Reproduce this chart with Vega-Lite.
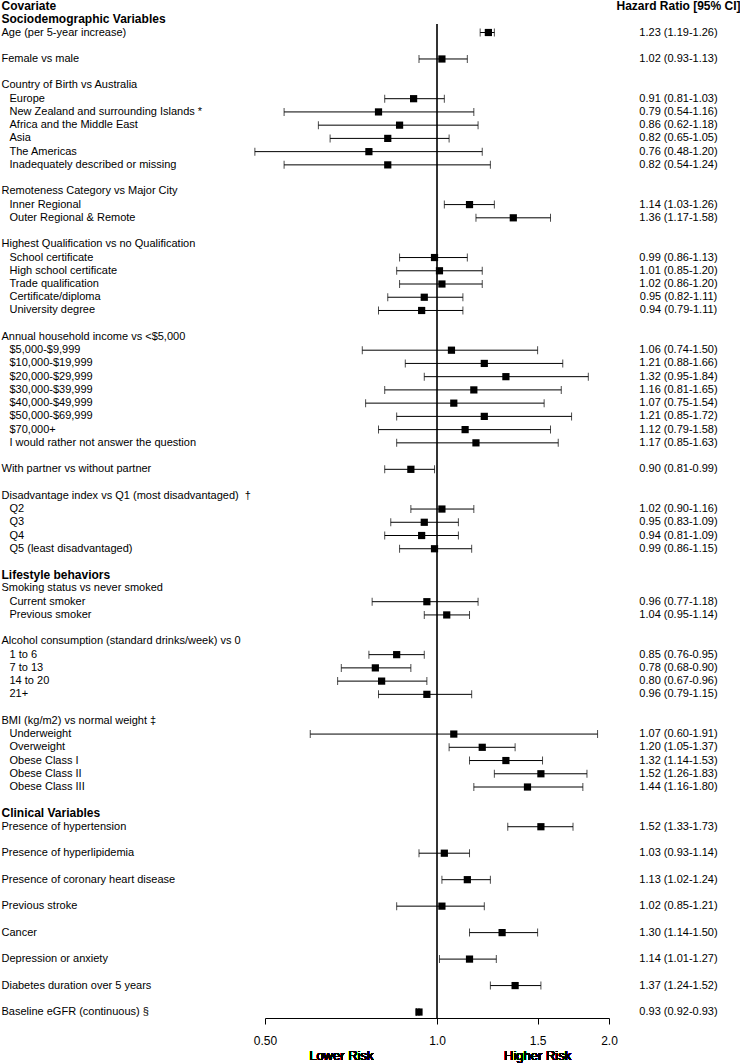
{
  "$schema": "https://vega.github.io/schema/vega-lite/v6.json",
  "padding": 0,
  "spacing": 0,
  "bounds": "flush",
  "config": {
    "view": {"stroke": null},
    "font": "Liberation Sans",
    "text": {"font": "Liberation Sans", "color": "black"}
  },
  "data": {
    "values": [
      {"row": 0, "label": "Covariate", "level": 0, "kind": "header", "ci": "Hazard Ratio [95% CI]"},
      {"row": 1, "label": "Sociodemographic Variables", "level": 0, "kind": "section"},
      {"row": 2, "label": "Age (per 5-year increase)", "level": 0, "kind": "item", "hr": 1.23, "lo": 1.19, "hi": 1.26, "ci": "1.23 (1.19-1.26)"},
      {"row": 4, "label": "Female vs male", "level": 0, "kind": "item", "hr": 1.02, "lo": 0.93, "hi": 1.13, "ci": "1.02 (0.93-1.13)"},
      {"row": 6, "label": "Country of Birth vs Australia", "level": 0, "kind": "group"},
      {"row": 7, "label": "Europe", "level": 1, "kind": "item", "hr": 0.91, "lo": 0.81, "hi": 1.03, "ci": "0.91 (0.81-1.03)"},
      {"row": 8, "label": "New Zealand and surrounding Islands *", "level": 1, "kind": "item", "hr": 0.79, "lo": 0.54, "hi": 1.16, "ci": "0.79 (0.54-1.16)"},
      {"row": 9, "label": "Africa and the Middle East", "level": 1, "kind": "item", "hr": 0.86, "lo": 0.62, "hi": 1.18, "ci": "0.86 (0.62-1.18)"},
      {"row": 10, "label": "Asia", "level": 1, "kind": "item", "hr": 0.82, "lo": 0.65, "hi": 1.05, "ci": "0.82 (0.65-1.05)"},
      {"row": 11, "label": "The Americas", "level": 1, "kind": "item", "hr": 0.76, "lo": 0.48, "hi": 1.20, "ci": "0.76 (0.48-1.20)"},
      {"row": 12, "label": "Inadequately described or missing", "level": 1, "kind": "item", "hr": 0.82, "lo": 0.54, "hi": 1.24, "ci": "0.82 (0.54-1.24)"},
      {"row": 14, "label": "Remoteness Category vs Major City", "level": 0, "kind": "group"},
      {"row": 15, "label": "Inner Regional", "level": 1, "kind": "item", "hr": 1.14, "lo": 1.03, "hi": 1.26, "ci": "1.14 (1.03-1.26)"},
      {"row": 16, "label": "Outer Regional & Remote", "level": 1, "kind": "item", "hr": 1.36, "lo": 1.17, "hi": 1.58, "ci": "1.36 (1.17-1.58)"},
      {"row": 18, "label": "Highest Qualification vs no Qualification", "level": 0, "kind": "group"},
      {"row": 19, "label": "School certificate", "level": 1, "kind": "item", "hr": 0.99, "lo": 0.86, "hi": 1.13, "ci": "0.99 (0.86-1.13)"},
      {"row": 20, "label": "High school certificate", "level": 1, "kind": "item", "hr": 1.01, "lo": 0.85, "hi": 1.20, "ci": "1.01 (0.85-1.20)"},
      {"row": 21, "label": "Trade qualification", "level": 1, "kind": "item", "hr": 1.02, "lo": 0.86, "hi": 1.20, "ci": "1.02 (0.86-1.20)"},
      {"row": 22, "label": "Certificate/diploma", "level": 1, "kind": "item", "hr": 0.95, "lo": 0.82, "hi": 1.11, "ci": "0.95 (0.82-1.11)"},
      {"row": 23, "label": "University degree", "level": 1, "kind": "item", "hr": 0.94, "lo": 0.79, "hi": 1.11, "ci": "0.94 (0.79-1.11)"},
      {"row": 25, "label": "Annual household income vs <$5,000", "level": 0, "kind": "group"},
      {"row": 26, "label": "$5,000-$9,999", "level": 1, "kind": "item", "hr": 1.06, "lo": 0.74, "hi": 1.50, "ci": "1.06 (0.74-1.50)"},
      {"row": 27, "label": "$10,000-$19,999", "level": 1, "kind": "item", "hr": 1.21, "lo": 0.88, "hi": 1.66, "ci": "1.21 (0.88-1.66)"},
      {"row": 28, "label": "$20,000-$29,999", "level": 1, "kind": "item", "hr": 1.32, "lo": 0.95, "hi": 1.84, "ci": "1.32 (0.95-1.84)"},
      {"row": 29, "label": "$30,000-$39,999", "level": 1, "kind": "item", "hr": 1.16, "lo": 0.81, "hi": 1.65, "ci": "1.16 (0.81-1.65)"},
      {"row": 30, "label": "$40,000-$49,999", "level": 1, "kind": "item", "hr": 1.07, "lo": 0.75, "hi": 1.54, "ci": "1.07 (0.75-1.54)"},
      {"row": 31, "label": "$50,000-$69,999", "level": 1, "kind": "item", "hr": 1.21, "lo": 0.85, "hi": 1.72, "ci": "1.21 (0.85-1.72)"},
      {"row": 32, "label": "$70,000+", "level": 1, "kind": "item", "hr": 1.12, "lo": 0.79, "hi": 1.58, "ci": "1.12 (0.79-1.58)"},
      {"row": 33, "label": "I would rather not answer the question", "level": 1, "kind": "item", "hr": 1.17, "lo": 0.85, "hi": 1.63, "ci": "1.17 (0.85-1.63)"},
      {"row": 35, "label": "With partner vs without partner", "level": 0, "kind": "item", "hr": 0.90, "lo": 0.81, "hi": 0.99, "ci": "0.90 (0.81-0.99)"},
      {"row": 37, "label": "Disadvantage index vs Q1 (most disadvantaged) \u00a0\u2020", "level": 0, "kind": "group"},
      {"row": 38, "label": "Q2", "level": 1, "kind": "item", "hr": 1.02, "lo": 0.90, "hi": 1.16, "ci": "1.02 (0.90-1.16)"},
      {"row": 39, "label": "Q3", "level": 1, "kind": "item", "hr": 0.95, "lo": 0.83, "hi": 1.09, "ci": "0.95 (0.83-1.09)"},
      {"row": 40, "label": "Q4", "level": 1, "kind": "item", "hr": 0.94, "lo": 0.81, "hi": 1.09, "ci": "0.94 (0.81-1.09)"},
      {"row": 41, "label": "Q5 (least disadvantaged)", "level": 1, "kind": "item", "hr": 0.99, "lo": 0.86, "hi": 1.15, "ci": "0.99 (0.86-1.15)"},
      {"row": 43, "label": "Lifestyle behaviors", "level": 0, "kind": "section"},
      {"row": 44, "label": "Smoking status vs never smoked", "level": 0, "kind": "group"},
      {"row": 45, "label": "Current smoker", "level": 1, "kind": "item", "hr": 0.96, "lo": 0.77, "hi": 1.18, "ci": "0.96 (0.77-1.18)"},
      {"row": 46, "label": "Previous smoker", "level": 1, "kind": "item", "hr": 1.04, "lo": 0.95, "hi": 1.14, "ci": "1.04 (0.95-1.14)"},
      {"row": 48, "label": "Alcohol consumption (standard drinks/week) vs 0", "level": 0, "kind": "group"},
      {"row": 49, "label": "1 to 6", "level": 1, "kind": "item", "hr": 0.85, "lo": 0.76, "hi": 0.95, "ci": "0.85 (0.76-0.95)"},
      {"row": 50, "label": "7 to 13", "level": 1, "kind": "item", "hr": 0.78, "lo": 0.68, "hi": 0.90, "ci": "0.78 (0.68-0.90)"},
      {"row": 51, "label": "14 to 20", "level": 1, "kind": "item", "hr": 0.80, "lo": 0.67, "hi": 0.96, "ci": "0.80 (0.67-0.96)"},
      {"row": 52, "label": "21+", "level": 1, "kind": "item", "hr": 0.96, "lo": 0.79, "hi": 1.15, "ci": "0.96 (0.79-1.15)"},
      {"row": 54, "label": "BMI (kg/m2) vs normal weight \u2021", "level": 0, "kind": "group"},
      {"row": 55, "label": "Underweight", "level": 1, "kind": "item", "hr": 1.07, "lo": 0.60, "hi": 1.91, "ci": "1.07 (0.60-1.91)"},
      {"row": 56, "label": "Overweight", "level": 1, "kind": "item", "hr": 1.20, "lo": 1.05, "hi": 1.37, "ci": "1.20 (1.05-1.37)"},
      {"row": 57, "label": "Obese Class I", "level": 1, "kind": "item", "hr": 1.32, "lo": 1.14, "hi": 1.53, "ci": "1.32 (1.14-1.53)"},
      {"row": 58, "label": "Obese Class II", "level": 1, "kind": "item", "hr": 1.52, "lo": 1.26, "hi": 1.83, "ci": "1.52 (1.26-1.83)"},
      {"row": 59, "label": "Obese Class III", "level": 1, "kind": "item", "hr": 1.44, "lo": 1.16, "hi": 1.80, "ci": "1.44 (1.16-1.80)"},
      {"row": 61, "label": "Clinical Variables", "level": 0, "kind": "section"},
      {"row": 62, "label": "Presence of hypertension", "level": 0, "kind": "item", "hr": 1.52, "lo": 1.33, "hi": 1.73, "ci": "1.52 (1.33-1.73)"},
      {"row": 64, "label": "Presence of hyperlipidemia", "level": 0, "kind": "item", "hr": 1.03, "lo": 0.93, "hi": 1.14, "ci": "1.03 (0.93-1.14)"},
      {"row": 66, "label": "Presence of coronary heart disease", "level": 0, "kind": "item", "hr": 1.13, "lo": 1.02, "hi": 1.24, "ci": "1.13 (1.02-1.24)"},
      {"row": 68, "label": "Previous stroke", "level": 0, "kind": "item", "hr": 1.02, "lo": 0.85, "hi": 1.21, "ci": "1.02 (0.85-1.21)"},
      {"row": 70, "label": "Cancer", "level": 0, "kind": "item", "hr": 1.30, "lo": 1.14, "hi": 1.50, "ci": "1.30 (1.14-1.50)"},
      {"row": 72, "label": "Depression or anxiety", "level": 0, "kind": "item", "hr": 1.14, "lo": 1.01, "hi": 1.27, "ci": "1.14 (1.01-1.27)"},
      {"row": 74, "label": "Diabetes duration over 5 years", "level": 0, "kind": "item", "hr": 1.37, "lo": 1.24, "hi": 1.52, "ci": "1.37 (1.24-1.52)"},
      {"row": 76, "label": "Baseline eGFR (continuous) \u00a7", "level": 0, "kind": "item", "hr": 0.93, "lo": 0.92, "hi": 0.93, "ci": "0.93 (0.92-0.93)"}
    ]
  },
  "hconcat": [
    {
      "width": 265,
      "height": 1017,
      "encoding": {
        "y": {"field": "row", "type": "quantitative", "scale": {"domain": [-0.38, 76.45], "reverse": true, "nice": false, "zero": false}, "axis": null},
        "x": {"field": "level", "type": "quantitative", "scale": {"domain": [0, 1], "range": [1.5, 9.5], "nice": false, "zero": false}, "axis": null},
        "text": {"field": "label"}
      },
      "layer": [
        {
          "transform": [{"filter": "datum.kind === 'item' || datum.kind === 'group'"}],
          "mark": {"type": "text", "align": "left", "baseline": "middle", "fontSize": 11, "fontWeight": "normal", "font": "Liberation Sans", "color": "black"}
        },
        {
          "transform": [{"filter": "datum.kind === 'header' || datum.kind === 'section'"}],
          "mark": {"type": "text", "align": "left", "baseline": "middle", "fontSize": 12, "fontWeight": "bold", "font": "Liberation Sans", "color": "black"}
        }
      ]
    },
    {
      "width": 344,
      "height": 1017,
      "encoding": {
        "y": {"field": "row", "type": "quantitative", "scale": {"domain": [-0.38, 76.45], "reverse": true, "nice": false, "zero": false}, "axis": null}
      },
      "layer": [
        {
          "mark": {"type": "rule", "color": "#333333", "strokeWidth": 1},
          "encoding": {
            "x": {"datum": 1, "type": "quantitative", "scale": {"type": "log", "domain": [0.5, 2], "nice": false, "zero": false},
              "axis": {"values": [0.5, 1, 1.5, 2], "labelExpr": "datum.value === 0.5 ? '0.50' : format(datum.value, '.1f')", "title": null, "grid": false,
                "domainColor": "black", "tickColor": "black", "tickSize": 6, "labelFontSize": 12, "labelFont": "Liberation Sans", "labelColor": "black", "labelPadding": 11, "labelFlush": false, "labelOverlap": false}},
            "y": {"datum": 1.4, "type": "quantitative"},
            "y2": {"datum": 76.45}
          }
        },
        {
          "mark": {"type": "rule", "color": "black", "strokeWidth": 1},
          "encoding": {
            "x": {"field": "lo", "type": "quantitative"},
            "x2": {"field": "hi"}
          }
        },
        {
          "mark": {"type": "tick", "orient": "vertical", "color": "black", "size": 8, "thickness": 1},
          "encoding": {
            "x": {"field": "lo", "type": "quantitative"}
          }
        },
        {
          "mark": {"type": "tick", "orient": "vertical", "color": "black", "size": 8, "thickness": 1},
          "encoding": {
            "x": {"field": "hi", "type": "quantitative"}
          }
        },
        {
          "mark": {"type": "point", "shape": "square", "filled": true, "color": "black", "opacity": 1, "size": 52},
          "encoding": {
            "x": {"field": "hr", "type": "quantitative"}
          }
        },
        {
          "mark": {"type": "text", "align": "center", "baseline": "middle", "fontSize": 13, "fontWeight": "normal", "font": "Liberation Sans", "color": "black"},
          "encoding": {
            "x": {"datum": 0.68, "type": "quantitative"},
            "y": {"datum": 79.32, "type": "quantitative"},
            "text": {"value": "Lower Risk"}
          }
        },
        {
          "mark": {"type": "text", "align": "center", "baseline": "middle", "fontSize": 13, "fontWeight": "normal", "font": "Liberation Sans", "color": "black"},
          "encoding": {
            "x": {"datum": 1.5, "type": "quantitative"},
            "y": {"datum": 79.32, "type": "quantitative"},
            "text": {"value": "Higher Risk"}
          }
        }
      ]
    },
    {
      "width": 131,
      "height": 1017,
      "encoding": {
        "y": {"field": "row", "type": "quantitative", "scale": {"domain": [-0.38, 76.45], "reverse": true, "nice": false, "zero": false}, "axis": null},
        "text": {"field": "ci"}
      },
      "layer": [
        {
          "transform": [{"filter": "datum.kind === 'item'"}],
          "mark": {"type": "text", "align": "center", "baseline": "middle", "dx": 4, "fontSize": 11, "fontWeight": "normal", "font": "Liberation Sans", "color": "black"}
        },
        {
          "transform": [{"filter": "datum.kind === 'header'"}],
          "mark": {"type": "text", "align": "center", "baseline": "middle", "dx": 4, "fontSize": 12, "fontWeight": "bold", "font": "Liberation Sans", "color": "black"}
        }
      ]
    }
  ]
}
